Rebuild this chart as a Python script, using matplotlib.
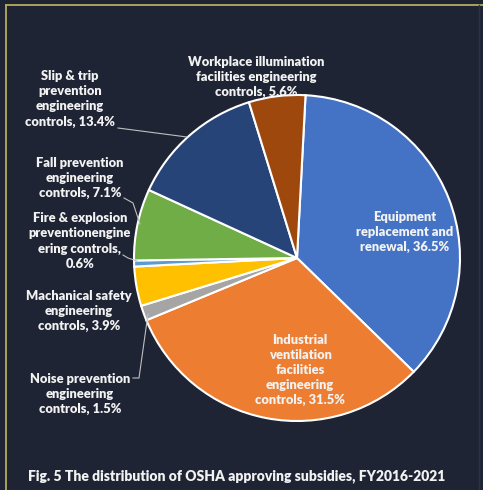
import matplotlib
matplotlib.use("Agg")
import matplotlib.pyplot as plt
from matplotlib.lines import Line2D

# ---- data ----
categories = [
    "Equipment\nreplacement and\nrenewal",
    "Industrial\nventilation\nfacilities\nengineering\ncontrols",
    "Noise prevention\nengineering\ncontrols",
    "Machanical safety\nengineering\ncontrols",
    "Fire & explosion\npreventionengine\nering controls,\n",
    "Fall prevention\nengineering\ncontrols",
    "Slip & trip\nprevention\nengineering\ncontrols",
    "Workplace illumination\nfacilities engineering\ncontrols",
]
values = [36.5, 31.5, 1.5, 3.9, 0.6, 7.1, 13.4, 5.6]
colors = ["#4472C4", "#ED7D31", "#A5A5A5", "#FFC000", "#5B9BD5",
          "#70AD47", "#264478", "#9E480E"]
title = "Fig. 5 The distribution of OSHA approving subsidies, FY2016-2021"

W, H = 483, 490
BG = "#1f2434"
fig = plt.figure(figsize=(W / 100, H / 100), dpi=100, facecolor=BG)
ax = fig.add_axes([0, 0, 1, 1])
ax.set_xlim(0, W)
ax.set_ylim(0, H)
ax.set_facecolor(BG)
ax.axis("off")

def Y(y):
    return H - y

cx, cy, r = 297, 258, 163
ax.pie(values, colors=colors, startangle=87, counterclock=False,
       center=(cx, Y(cy)), radius=r,
       wedgeprops=dict(edgecolor="white", linewidth=1.5))
ax.set_xlim(0, W)
ax.set_ylim(0, H)
ax.set_aspect("equal")

def lab(i):
    c = categories[i]
    if c.endswith("\n"):
        return f"{c}{values[i]}%"
    return f"{c}, {values[i]}%"

font = dict(family="Lato", fontweight="heavy", fontsize=9.3, color="#f2f2f2",
            ha="center", va="center", linespacing=1.3)

label_pos = [(405, 232), (300, 370), (80, 394), (79, 311), (80, 241),
             (80, 178), (70, 99), (256, 77)]
for i, (x, y) in enumerate(label_pos):
    ax.text(x, Y(y), lab(i), **font)

lc = "#bfbfbf"
leaders = [
    [(118, 128), (187, 137)],
    [(124, 198), (133, 203), (140, 224)],
    [(123, 255), (128, 258), (137, 261)],
    [(133, 378), (139, 378), (148, 314)],
]
for pts in leaders:
    xs = [p[0] for p in pts]
    ys = [Y(p[1]) for p in pts]
    ax.add_line(Line2D(xs, ys, color=lc, linewidth=0.8))

ax.text(237, Y(476), title, family="Lato", fontweight="heavy", fontsize=10,
        color="#f2f2f2", ha="center", va="center")

# frame
gold = "#b5ad5a"
ax.add_line(Line2D([5.5, 5.5], [Y(5.5), -5], color=gold, linewidth=1.3))
ax.add_line(Line2D([5.5, W + 5], [Y(5.5), Y(5.5)], color=gold, linewidth=1.3))
ax.add_line(Line2D([478.5, 478.5], [Y(5.5), -5], color="#2b3050", linewidth=1.0))

fig.savefig("out.png", dpi=100, facecolor=BG)
